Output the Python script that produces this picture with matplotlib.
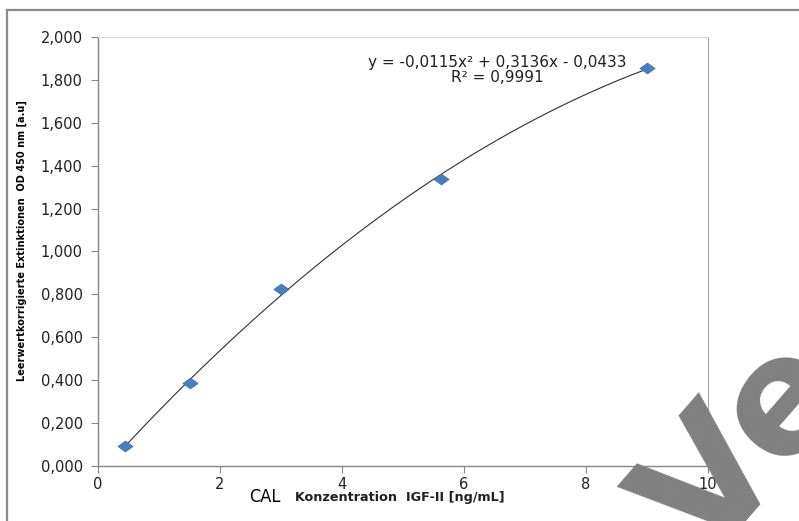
import numpy as np
import matplotlib.pyplot as plt
from matplotlib.lines import Line2D
from matplotlib import font_manager

# calibration points
conc = [0.45, 1.5, 3.0, 5.62, 9.0]
od = [0.095, 0.385, 0.825, 1.34, 1.855]

x_ticks = [0, 2, 4, 6, 8, 10]
y_ticks = [0.0, 0.2, 0.4, 0.6, 0.8, 1.0, 1.2, 1.4, 1.6, 1.8, 2.0]

equation = 'y = -0,0115x² + 0,3136x - 0,0433'
r_squared = 'R² = 0,9991'

names = sorted(set(f.name for f in font_manager.fontManager.ttflist))
print([n for n in names if 'Narrow' in n or 'Condensed' in n])

fig = plt.figure(figsize=(7.99, 5.21), dpi=100)
ax = fig.add_axes([0.1227, 0.1056, 0.886 - 0.1227, 0.929 - 0.1056])
ax.set_facecolor('none')

# watermark behind the chart
fig.text(0.885, -0.085, 'Ve', fontsize=118, fontweight='bold', color='#808080',
         rotation=49, rotation_mode='anchor', ha='left', va='baseline', zorder=0)

# outer frame (top and left edges visible)
fig.add_artist(Line2D([6.5 / 799, 1.0], [1 - 9.5 / 521, 1 - 9.5 / 521],
                      transform=fig.transFigure, color='#8a8a8a', lw=1.6))
fig.add_artist(Line2D([6.5 / 799, 6.5 / 799], [0.0, 1 - 9.5 / 521],
                      transform=fig.transFigure, color='#8a8a8a', lw=1.6))

# quadratic trend line
coef = np.polyfit(conc, od, 2)
xs = np.linspace(min(conc), max(conc), 200)
ax.plot(xs, np.polyval(coef, xs), color='#303030', lw=0.8, zorder=2)

diamond = [(-1.4, 0), (0, 1), (1.4, 0), (0, -1), (-1.4, 0)]
ax.plot(conc, od, linestyle='none', marker=diamond, markersize=11,
        color='#4a7ebb', markeredgecolor='#3f73b0', markeredgewidth=0.5, zorder=3)

ax.set_xlim(0, 10)
ax.set_ylim(0, 2.0)
ax.set_xticks(x_ticks)
ax.set_xticklabels([str(v) for v in x_ticks])
ax.set_yticks(y_ticks)
ax.set_yticklabels(['{:.3f}'.format(v).replace('.', ',') for v in y_ticks])
ax.tick_params(direction='out', length=5, width=0.8, color='#868686',
               labelsize=10.5, labelcolor='#202020')
ax.tick_params(axis='x', pad=3)
ax.tick_params(axis='y', pad=6)

for side in ['left', 'bottom']:
    ax.spines[side].set_color('#868686')
    ax.spines[side].set_linewidth(1.0)
ax.spines['top'].set_color('#d9d9d9')
ax.spines['right'].set_color('#a6a6a6')

ax.set_ylabel('Leerwertkorrigierte Extinktionen  OD 450 nm [a.u]', family='DejaVu Sans',
              fontstretch='condensed', fontweight='bold', fontsize=7.8)
ax.yaxis.set_label_coords(-0.117, 0.525)

fig.text(249 / 799, 1 - 497 / 521, 'CAL', family='DejaVu Sans', fontstretch='condensed',
         fontsize=13, va='center', ha='left')
fig.text(295 / 799, 1 - 498 / 521, 'Konzentration  IGF-II [ng/mL]', fontsize=9.2,
         fontweight='bold', va='center', ha='left', color='#202020')

ax.text(6.55, 1.883, equation, ha='center', va='center', fontsize=11, color='#202020')
ax.text(6.55, 1.809, r_squared, ha='center', va='center', fontsize=11, color='#202020')

plt.savefig('out.png', dpi=100)
plt.close()
